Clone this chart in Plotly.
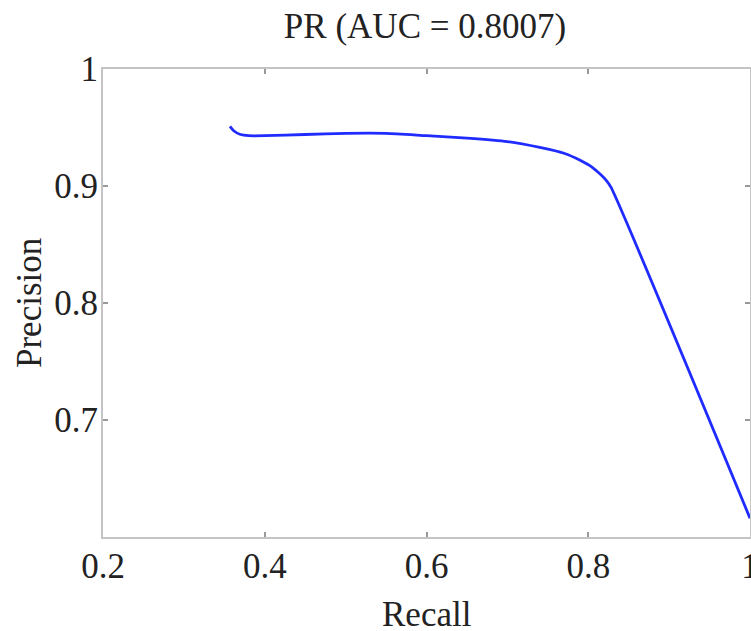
import plotly.graph_objects as go

recall = [0.357, 0.362, 0.370, 0.380, 0.40, 0.45, 0.50, 0.55, 0.60, 0.65, 0.70,
          0.74, 0.77, 0.79, 0.805, 0.815, 0.822, 0.828, 1.0]
precision = [0.951, 0.947, 0.944, 0.943, 0.943, 0.944, 0.945, 0.945, 0.943, 0.941, 0.938,
             0.933, 0.928, 0.922, 0.916, 0.910, 0.905, 0.899, 0.616]

x_ticks = [0.2, 0.4, 0.6, 0.8, 1.0]
x_ticktext = ["0.2", "0.4", "0.6", "0.8", "1"]
y_ticks = [0.7, 0.8, 0.9, 1.0]
y_ticktext = ["0.7", "0.8", "0.9", "1"]

FONT = "Liberation Serif, Times New Roman, serif"
TXT = "#222222"
AX = "#c4c4c4"
FS = 35

W, H = 751, 631
L, R, T, B = 103, 1, 69, 94
PW, PH = W - L - R, H - T - B

fig = go.Figure()
fig.add_trace(go.Scatter(x=recall, y=precision, mode="lines",
                         line=dict(color="#1f2bff", width=2.8, shape="spline", smoothing=0.6),
                         showlegend=False))

fig.update_layout(
    width=W, height=H,
    margin=dict(l=L, r=R, t=T, b=B),
    paper_bgcolor="white", plot_bgcolor="white",
    font=dict(family=FONT, size=FS, color=TXT),
    title=dict(text="PR (AUC = 0.8007)", x=425 / W, xanchor="center",
               y=1 - 26 / H, yanchor="middle", yref="container",
               font=dict(family=FONT, size=FS, color=TXT)),
    xaxis=dict(range=[0.2, 1.0], tickvals=x_ticks, ticktext=x_ticktext,
               ticks="inside", ticklen=5, tickwidth=1.5, tickcolor="#999999",
               showline=True, linecolor=AX, linewidth=2, mirror="ticks",
               showgrid=False, zeroline=False, ticklabelstandoff=-3, automargin=False,
               ticklabeloverflow="allow"),
    yaxis=dict(range=[0.6, 1.0], tickvals=y_ticks, ticktext=y_ticktext,
               ticks="inside", ticklen=5, tickwidth=1.5, tickcolor="#999999",
               showline=True, linecolor=AX, linewidth=2, mirror="ticks",
               showgrid=False, zeroline=False, ticklabelstandoff=-4, automargin=False,
               ticklabeloverflow="allow"),
    annotations=[
        dict(text="Recall", xref="paper", yref="paper", x=0.5, y=-77 / PH,
             xanchor="center", yanchor="middle", showarrow=False,
             font=dict(family=FONT, size=FS, color=TXT)),
        dict(text="Precision", xref="paper", yref="paper", x=(29 - L) / PW, y=0.5,
             xanchor="center", yanchor="middle", showarrow=False, textangle=-90,
             font=dict(family=FONT, size=FS, color=TXT)),
    ],
)

fig.write_html(
    "out.html",
    config={"displayModeBar": False},
    post_script="document.body.style.margin='0';document.body.style.overflow='hidden';",
)
